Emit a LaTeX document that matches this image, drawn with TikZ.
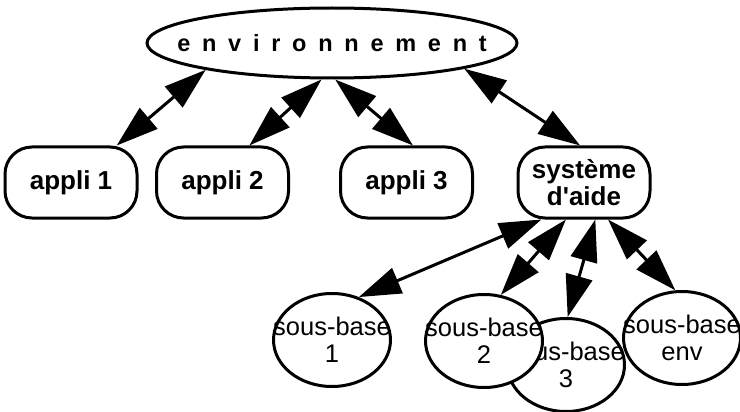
\documentclass[tikz,border=0pt]{standalone}
\usepackage{fontspec}
\setmainfont{Liberation Sans}
\newfontfamily\spacedfont[LetterSpace=50]{Liberation Sans}
\usetikzlibrary{shapes.geometric,arrows.meta}
\begin{document}
\begin{tikzpicture}[x=1pt, y=-1pt,
		app/.style = {draw, line width=3pt, rounded corners=27pt, minimum width=132pt, minimum height=71pt, inner sep=0pt, align=center, font=\fontsize{26}{27}\selectfont\bfseries},
		base/.style = {draw, fill=white, ellipse, line width=3pt, minimum width=117pt, minimum height=93pt, inner xsep=-25pt, inner ysep=0pt, align=center, font=\fontsize{25.5}{27}\selectfont},
		link/.style = {{Triangle[length=42pt,width=27pt]}-{Triangle[length=42pt,width=27pt]}, line width=3pt}]
		\useasboundingbox (0, 0) rectangle (740, 412);
		% top
		\node[draw, ellipse, line width=3pt, minimum width=370pt, minimum height=70pt, inner xsep=-50pt, font=\fontsize{23.5}{24}\selectfont\spacedfont\bfseries] (env) at (332, 43) {environnement};
		% applications
		\node[app] (appli1) at (71, 182.5) {appli\ 1};
		\node[app] (appli2) at (222.5, 182.5) {appli\ 2};
		\node[app] (appli3) at (406.5, 182.5) {appli 3};
		\node[app] (aide) at (584, 182.5) {système\\d\textquotesingle aide};
		% sous-bases
		\node[base] (sb1) at (332, 340) {sous-base\\1};
		\node[base] (sb3) at (566, 365) {sous-base\\3};
		\node[base] (sb2) at (484, 341) {sous-base\\2};
		\node[base] (sbenv) at (682, 338) {sous-base\\env};
		% links
		\draw[link] (env.192) -- (appli1.39);
		\draw[link] (env.254) -- (appli2.54);
		\draw[link] (env.275) -- (appli3.80);
		\draw[link] (env.349) -- (aide.96);
		\draw[link] (aide.221) -- (sb1.58);
		\draw[link] (aide.244) -- (sb2.70);
		\draw[link] (aide.287) -- (sb3.88);
		\draw[link] (aide.303) -- (sbenv.98);
	\end{tikzpicture}
\end{document}
